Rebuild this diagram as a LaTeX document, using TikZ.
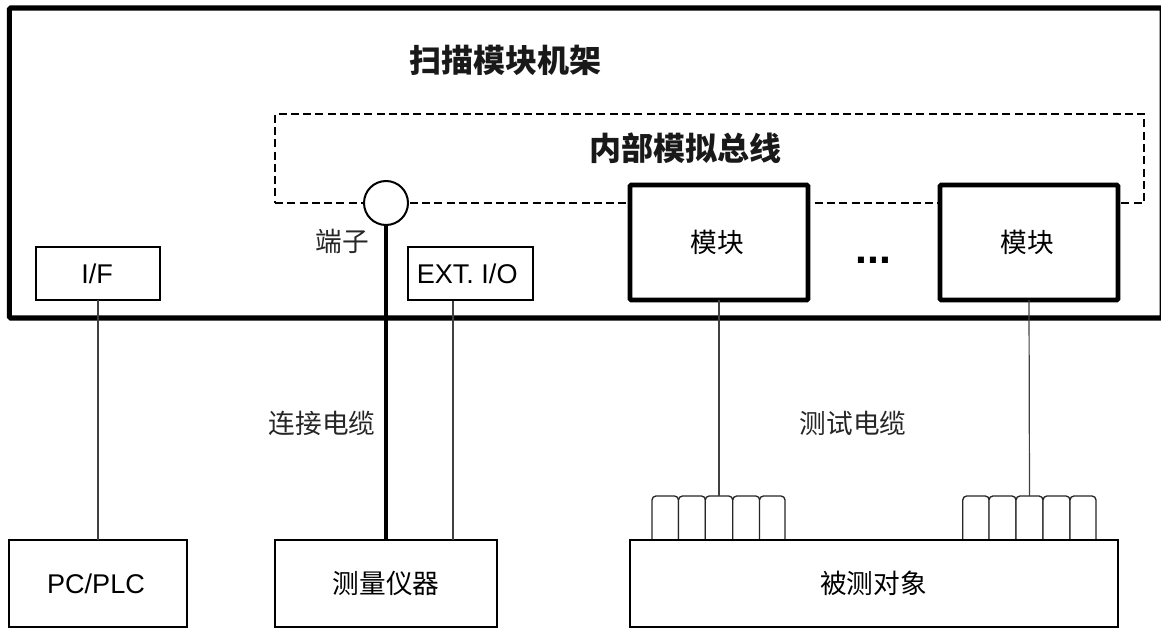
\documentclass[tikz,border=0pt]{standalone}
\usepackage{fontspec}
\setmainfont{Liberation Sans}
\newfontfamily\cjk{Noto Sans CJK SC}
\newcommand\nudge[3]{\kern#1\raisebox{#2}{#3}\kern-#1}
\tikzset{
  x=0.75pt,y=-0.75pt,
  every node/.style={inner sep=0pt,outer sep=0pt},
  thinbox/.style={draw=black,line width=1.5pt,fill=white,align=center,font=\fontsize{20.3}{22}\selectfont},
  modbox/.style={draw=black,line width=3.6pt,rounded corners=1pt,fill=white,minimum width=133.5pt,minimum height=86.25pt,font=\cjk\fontsize{20}{22}\selectfont},
  finger/.style={draw=black!85,line width=1pt,rounded corners=3pt,fill=white,minimum height=36pt},
  label/.style={text=black!85,font=\cjk\fontsize{20}{22}\selectfont},
  heading/.style={text=black!90,font=\cjk\bfseries\fontsize{24}{26}\selectfont},
  wire/.style={draw=black!75,line width=0.9pt},
  heavywire/.style={draw=black,line width=3.4pt},
  busline/.style={draw=black,line width=1.2pt,dash pattern=on 6pt off 3.2pt}
}
\begin{document}
\begin{tikzpicture}
\useasboundingbox (0,0) rectangle (1161,628);
% chassis
\node[draw=black,line width=3.8pt,rounded corners=1pt,minimum width=864.5pt,minimum height=232.5pt] (rack) at (585.75,163) {};
\node[heading] (racktitle) at (505,60) {扫描模块机架};
% bus
\node[busline,minimum width=651.75pt,minimum height=66.75pt] (bus) at (709.5,158.5) {};
\node[heading] (bustitle) at (685,148) {内部模拟总线};
% port
\node[circle,draw=black,line width=1.5pt,fill=white,minimum size=33pt] (port) at (386,203) {};
\node[label] (portlabel) at (342,241) {端子};
% boxes in rack
\node[thinbox,minimum width=93pt,minimum height=40pt] (ifbox) at (98,273.5) {\nudge{-0.7pt}{-1.8pt}{I/F}};
\node[thinbox,minimum width=93.75pt,minimum height=40pt] (ext) at (470.5,273.5) {\nudge{-2.5pt}{-1.8pt}{EXT. I/O}};
\node[modbox] (m1) at (719,242.5) {\nudge{-1.5pt}{-1.5pt}{模块}};
\node[modbox] (m2) at (1029,242.5) {\nudge{-1.5pt}{-1.5pt}{模块}};
\node[font=\bfseries\fontsize{32}{34}\selectfont] (dots) at (873.5,260) {...};
% fingers left
\foreach \n/\xa/\w in {a/665.25/26.5,b/692/27,c/719/27.5,d/746.25/27,e/772.25/25.5}{
  \node[finger,minimum width=\w*0.75pt] (f\n) at (\xa,520) {};
}
\foreach \n/\xa/\w in {a/976/26.5,b/1002.5/27,c/1029.5/27,d/1056.5/27,e/1083/26}{
  \node[finger,minimum width=\w*0.75pt] (g\n) at (\xa,520) {};
}
% bottom boxes
\node[thinbox,minimum width=133.5pt,minimum height=65.25pt] (pc) at (98,583.5) {\nudge{-1.5pt}{-1.5pt}{PC/PLC}};
\node[thinbox,font=\cjk\fontsize{20}{22}\selectfont,minimum width=166.5pt,minimum height=65.25pt] (meas) at (386,583.5) {\nudge{0pt}{-1.2pt}{测量仪器}};
\node[thinbox,font=\cjk\fontsize{20}{22}\selectfont,minimum width=366pt,minimum height=65.25pt] (dut) at (873.5,583.5) {\nudge{0pt}{-1.2pt}{被测对象}};
% connectors
\coordinate (extout) at (453,301);
\draw[wire] (ifbox.south) -- (pc.north);
\draw[wire] (extout) -- (extout |- meas.north);
\draw[heavywire] (port.south) -- (meas.north);
\draw[wire] (m1.south) -- (fc.north);
\draw[wire] (m2.south) -- (gc.north);
\node[label] (cablea) at (322,423) {连接电缆};
\node[label] (cableb) at (853,423) {测试电缆};
\end{tikzpicture}
\end{document}
